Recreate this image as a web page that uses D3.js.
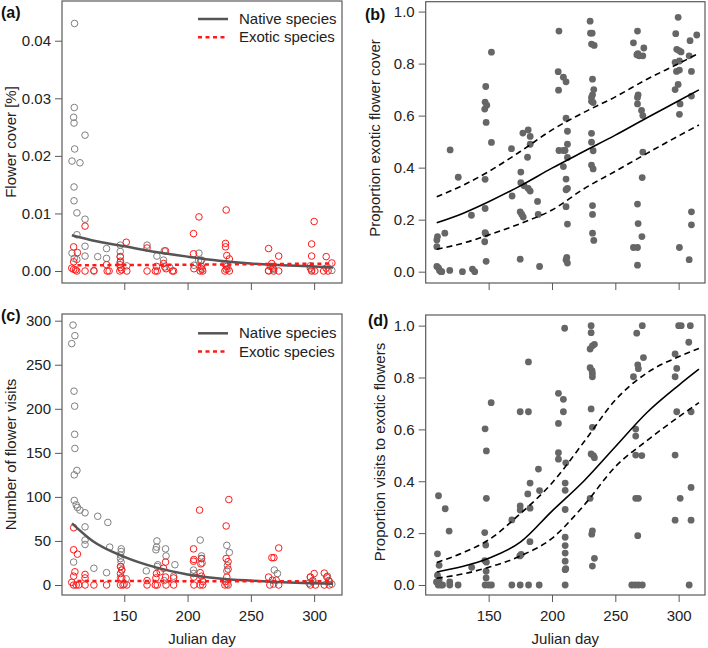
<!DOCTYPE html>
<html><head><meta charset="utf-8">
<script src="https://cdn.jsdelivr.net/npm/d3@7"></script>
<style>
body{margin:0;background:#fff}
svg{display:block}
text{font-family:"Liberation Sans",Arial,Helvetica,sans-serif}
</style>
</head><body>
<svg id="chart" width="708" height="648"></svg>
<script>
// ---------------- DATA ----------------
const xTicks = [150, 200, 250, 300];
const coverTicks = [0, 0.01, 0.02, 0.03, 0.04];
const visitTicks = [0, 50, 100, 150, 200, 250, 300];
const propTicks = [0, 0.2, 0.4, 0.6, 0.8, 1.0];
const legendLabels = ["Native species", "Exotic species"];

// (a) flower cover, native species [day, cover %]
const coverNative = [[110.7,0.0430],[110.5,0.0284],[110.0,0.0267],[110.3,0.0257],[119.0,0.0236],[110.8,0.0212],[108.7,0.0191],[115.0,0.0188],[110.3,0.0146],[110.3,0.0122],[112.6,0.0101],[119.0,0.0090],[112.6,0.0063],[119.0,0.0043],[119.0,0.0026],[108.7,0.0031],[110.5,0.0022],[112.5,0.0020],[129.0,0.0025],[126.0,0.0001],[136.0,0.0039],[136.0,0.0022],[146.8,0.0045],[146.8,0.0034],[146.8,0.0025],[146.8,0.0015],[152.0,0.0009],[168.0,0.0045],[175.8,0.0026],[181.0,0.0019],[181.6,0.0035],[186.0,0.0006],[209.0,0.0031],[208.7,0.0019],[211.0,0.0019],[205.0,0.0010],[210.5,0.0005],[231.0,0.0012],[232.0,0.0004],[264.0,0.0001],[266.6,0.0007],[268.0,0.0003],[297.0,0.0009],[298.0,0.0002],[314.0,0.0001]];
// (a) flower cover, exotic species
const coverExotic = [[119.0,0.0078],[110.0,0.0042],[113.0,0.0032],[110.0,0.0016],[108.5,0.0005],[110.0,0.0003],[111.5,0.0002],[112.5,0.0000],[119.0,0.0000],[126.0,0.0000],[136.0,0.0011],[136.5,0.0000],[138.0,0.0000],[146.8,0.0025],[147.0,0.0017],[146.5,0.0011],[147.0,0.0006],[146.5,0.0000],[148.0,0.0002],[151.6,0.0050],[152.0,0.0000],[168.0,0.0040],[168.0,0.0000],[175.5,0.0008],[176.0,0.0000],[174.5,0.0000],[181.0,0.0013],[182.0,0.0007],[183.0,0.0004],[182.6,0.0035],[188.0,0.0000],[189.0,0.0000],[204.7,0.0065],[209.0,0.0094],[204.7,0.0030],[205.0,0.0004],[210.5,0.0018],[211.0,0.0008],[211.5,0.0003],[210.0,0.0000],[212.0,0.0000],[230.5,0.0106],[230.0,0.0048],[230.0,0.0042],[231.0,0.0027],[233.0,0.0021],[229.5,0.0012],[231.0,0.0008],[230.5,0.0003],[233.0,0.0000],[229.5,0.0000],[264.0,0.0039],[272.0,0.0026],[266.5,0.0013],[265.5,0.0008],[267.5,0.0005],[264.0,0.0000],[268.0,0.0000],[272.0,0.0000],[298.0,0.0047],[300.0,0.0086],[298.0,0.0026],[297.0,0.0005],[300.5,0.0000],[298.0,0.0000],[309.5,0.0025],[314.0,0.0014],[307.5,0.0000],[311.0,0.0000],[309.5,0.0005]];
const fitCoverNative = [[108.6,0.0062],[125,0.0053],[150,0.0043],[175,0.0033],[200,0.0025],[225,0.0018],[250,0.0013],[275,0.0010],[300,0.0008],[315,0.0006]];
const fitCoverExotic = [[113,0.0010],[200,0.0011],[315,0.0013]];

// (c) number of flower visits
const visitsNative = [[109.5,295],[111,283],[108.5,274],[110.3,220],[110.8,203],[110.8,171],[111,155],[112.6,130],[110.5,125],[110.5,96],[112,91],[113,88],[115,85],[119,82],[129,78],[137,71],[138.5,43],[119,66],[119,51],[119,46],[126,19],[110,26],[136,14],[147.6,41],[147.6,38],[147,34],[147,30],[147.5,26],[147.3,21],[148,17],[147,8],[151.5,7],[167.4,16],[175.8,50],[175.5,43],[175,40],[176.5,23],[176,21],[182.6,41],[183,33],[190,23],[189,10],[181.5,5],[204.7,17],[204.7,13],[210,51],[211,33],[211,30],[211.5,25],[231,45],[233,37],[231.5,22],[231,16],[268.5,17],[271,13],[297,9],[298.5,4],[296,2],[310.5,10],[312,4],[150,1],[231,1],[268,1],[314,1]];
const visitsExotic = [[110,65],[110,40],[113,35],[111,15],[110,10],[119,12],[119,8],[108.5,3],[110,0],[112,0],[114,0],[119,0],[126,0],[136,0],[147,21],[148,17],[147,13],[148,8],[147,0],[149,0],[152,0],[168,0],[168,5],[175.5,13],[175,8],[176,0],[174.5,0],[178.4,15],[181,19],[182.6,26],[182.6,9],[183,0],[189,8],[189,0],[204.7,41],[205,29],[204.7,27],[205,9],[205,0],[209.5,85],[211,30],[210.5,24],[210,14],[211,10],[212,4],[210,0],[212,0],[232.6,97],[230.5,67],[230.5,30],[232,26.5],[232,18],[231,9],[230,4],[232,0],[229.5,0],[272,42],[266.6,31],[268.2,31],[264,9],[267,5.5],[270,5.5],[272,0],[265,0],[300,13],[297,9],[299,5],[301,0],[297,0],[308,13.5],[310,9],[311.5,5],[308,0],[312,0]];
const fitVisitsNative = [[108.7,70],[125,50],[150,32],[175,20],[200,12],[225,7.5],[250,5],[275,3.2],[300,2],[315,1.3]];
const fitVisitsExotic = [[113,4.5],[315,4.2]];

// (b) proportion exotic flower cover
const propCover = [[109.6,0.135],[109.1,0.122],[109.1,0.096],[115.4,0.148],[109.1,0.020],[110.4,0.015],[111.2,0.005],[112.3,0.000],[113,0.000],[119.3,0.005],[119.6,0.468],[129.3,0.000],[126,0.363],[136.4,0.217],[137.2,0.010],[139,0.000],
[147.2,0.355],[147.2,0.243],[147.7,0.712],[147.2,0.652],[148.5,0.640],[146.9,0.625],[148,0.574],[152.2,0.844],[152.2,0.497],[147.2,0.150],[147.7,0.145],[146.9,0.115],[148,0.040],
[168,0.473],[168.5,0.291],[175.4,0.383],[177,0.533],[181.2,0.545],[182.8,0.520],[180.7,0.440],[182.8,0.490],[175.4,0.342],[178,0.330],[181.2,0.320],[182.8,0.310],[174.9,0.230],[176.2,0.220],[177.3,0.210],[174.9,0.048],[188.6,0.270],[189.1,0.220],[190.2,0.020],
[205.5,0.925],[204.9,0.769],[209,0.748],[211.1,0.730],[205.2,0.698],[205.5,0.466],[209,0.466],[210.3,0.466],[211.1,0.590],[212.2,0.540],[212.2,0.490],[212.2,0.439],[209,0.404],[211.1,0.356],[212.2,0.320],[211.1,0.315],[211.1,0.250],[212.2,0.183],[211.7,0.055],[212.2,0.033],[211.1,0.045],
[230.1,0.963],[230.4,0.917],[231.7,0.917],[231.2,0.875],[233.3,0.870],[232,0.740],[233,0.700],[232,0.680],[231.2,0.670],[231.2,0.655],[232.5,0.650],[231.2,0.532],[231.2,0.498],[232.5,0.465],[231.2,0.410],[232.5,0.395],[232,0.254],[232,0.220],[232,0.148],[233,0.120],
[264.3,0.880],[267.5,0.925],[267.8,0.838],[268.8,0.830],[271.7,0.830],[267,0.834],[272.5,0.860],[268,0.680],[267.5,0.670],[267.5,0.645],[270.7,0.620],[271.7,0.600],[271.7,0.460],[271.2,0.362],[267.5,0.260],[268,0.185],[271,0.135],[264.3,0.093],[267.5,0.093],[267.5,0.025],
[299.6,0.978],[297.7,0.915],[298.5,0.855],[300.3,0.850],[301.9,0.845],[297.2,0.805],[300.6,0.810],[298.3,0.770],[300.6,0.775],[299.6,0.720],[297.2,0.700],[301.1,0.645],[300.6,0.605],[300.6,0.093],[314.3,0.910],[309,0.888],[308.3,0.830],[310.1,0.770],[310.1,0.675],[310.1,0.230],[310.1,0.180],[308.3,0.046]];
const fitCoverMid = [[109,0.188],[130,0.225],[150,0.269],[175,0.330],[200,0.398],[225,0.462],[250,0.525],[275,0.592],[300,0.657],[316,0.699]];
const fitCoverHi = [[109,0.288],[130,0.333],[150,0.385],[175,0.462],[200,0.545],[225,0.612],[250,0.672],[275,0.740],[300,0.800],[316,0.840]];
const fitCoverLo = [[109,0.086],[130,0.110],[150,0.141],[175,0.185],[200,0.237],[225,0.318],[250,0.386],[275,0.455],[300,0.522],[316,0.564]];

// (d) proportion visits to exotic flowers
const propVisits = [[110.4,0.344],[115.7,0.294],[118.8,0.208],[109.6,0.120],[110.9,0.076],[109.6,0.038],[110.9,0.021],[108.8,0.012],[110.2,0],[112.3,0],[113.6,0],[119.3,0.012],[119.3,0],[125.9,0],[136.6,0.068],
[147.2,0.602],[148.2,0.517],[148.2,0.334],[146.9,0.202],[147.7,0.154],[146.9,0.094],[148.2,0.088],[148,0.053],[148,0.027],[147.2,0],[150,0],[152,0.703],[152.2,0],
[168.3,0.251],[168.3,0],[174.9,0],[181.5,0],[189.9,0],[174.9,0.305],[174.9,0.289],[174.6,0.112],[175.7,0.118],[181.4,0.860],[174.9,0.668],[181.4,0.668],[180.9,0.351],[182.7,0.393],[182.7,0.296],[182.6,0.167],[189.3,0.447],[190.2,0.364],
[205.1,0.739],[209,0.716],[209,0.668],[205.1,0.623],[205.1,0.510],[205.1,0.485],[210,0.990],[210.9,0.471],[210.4,0.393],[210.4,0.365],[210.4,0.291],[210.4,0.184],[210.4,0.152],[210.4,0.123],[210.4,0.092],[210.4,0.059],[210.9,0.063],[210.4,0],
[230.9,1.0],[230.9,0.973],[230.1,0.910],[231.9,0.922],[233.5,0.928],[230.1,0.838],[231.6,0.826],[231.9,0.816],[231.9,0.803],[230.9,0.679],[231.9,0.608],[230.9,0.505],[232.7,0.499],[233.5,0.491],[230.1,0.334],[231.9,0.209],[231.4,0.196],[233.5,0.103],[231.9,0.073],
[271.3,1.0],[266.9,0.971],[272.2,0.877],[267.7,0.849],[268.2,0.834],[264.3,0.803],[266.1,0.601],[266.1,0.574],[266.1,0.501],[270.9,0.499],[266.1,0.334],[268.2,0.334],[267.7,0.190],[263,0],[265.6,0],[268.2,0],[271.3,0],
[300,1.0],[302,1.0],[309.2,1.0],[308,0.936],[297.2,0.891],[298.5,0.835],[297.2,0.803],[298.5,0.668],[309.8,0.668],[297.2,0.501],[301.2,0.334],[297.2,0.25],[309.8,0.25],[309.8,0.376],[308.3,0]];
const fitVisitsMid = [[109,0.050],[130,0.072],[150,0.103],[175,0.165],[200,0.285],[225,0.400],[250,0.533],[275,0.665],[300,0.770],[316,0.832]];
const fitVisitsHi = [[109,0.087],[130,0.125],[150,0.174],[175,0.275],[200,0.393],[225,0.550],[250,0.713],[275,0.818],[300,0.880],[316,0.912]];
const fitVisitsLo = [[109,0.026],[130,0.043],[150,0.068],[175,0.112],[200,0.180],[225,0.306],[250,0.456],[275,0.557],[300,0.648],[316,0.703]];

// ---------------- DRAWING ----------------
const svg = d3.select("#chart");
const FONT = 15;
const GREY_PT = "#808080", RED = "#ff1a1a", DOT = "#666666", FRAME = "#5a5a5a";

function makePanel(cfg) {
  const b = cfg.box;
  const x = d3.scaleLinear().domain(cfg.xDom).range([b.l, b.r]);
  const y = d3.scaleLinear().domain(cfg.yDom).range([b.b, b.t]);
  const g = svg.append("g");

  // y axis
  const ya = g.append("g").attr("transform", `translate(${b.l},0)`)
    .call(d3.axisLeft(y).tickValues(cfg.yTicks).tickSize(7).tickPadding(4).tickFormat(cfg.yFmt));
  ya.select(".domain").remove();
  ya.selectAll("line").attr("stroke", FRAME);
  ya.selectAll("text").attr("font-size", FONT).attr("fill", "#222")
    .attr("font-family", '"Liberation Sans",Arial,sans-serif');

  // x axis
  const xa = g.append("g").attr("transform", `translate(0,${b.b})`)
    .call(d3.axisBottom(x).tickValues(xTicks).tickSize(7).tickPadding(8)
      .tickFormat(cfg.xLabels ? d3.format("d") : () => ""));
  xa.select(".domain").remove();
  xa.selectAll("line").attr("stroke", FRAME);
  xa.selectAll("text").attr("font-size", FONT).attr("fill", "#222")
    .attr("font-family", '"Liberation Sans",Arial,sans-serif');

  // frame
  g.append("rect").attr("x", b.l).attr("y", b.t)
    .attr("width", b.r - b.l).attr("height", b.b - b.t)
    .attr("fill", "none").attr("stroke", FRAME).attr("stroke-width", 1.2);

  // y title
  g.append("text")
    .attr("transform", `translate(${cfg.yTitleX},${cfg.yTitleY}) rotate(-90)`)
    .attr("text-anchor", "middle").attr("font-size", FONT).attr("fill", "#222")
    .text(cfg.yTitle);

  // x title
  if (cfg.xLabels) {
    g.append("text").attr("x", (b.l + b.r) / 2).attr("y", 644)
      .attr("text-anchor", "middle").attr("font-size", FONT).attr("fill", "#222")
      .text("Julian day");
  }

  // panel letter
  g.append("text").attr("x", cfg.tag[0]).attr("y", cfg.tag[1])
    .attr("font-size", 16).attr("font-weight", "bold").attr("fill", "#111")
    .text(cfg.tagText);

  return {g, x, y};
}

const line = (x, y) => d3.line().x(d => x(d[0])).y(d => y(d[1])).curve(d3.curveMonotoneX);

function hollow(p, data, color) {
  p.g.append("g").selectAll("circle").data(data).join("circle")
    .attr("cx", d => p.x(d[0])).attr("cy", d => p.y(d[1])).attr("r", 3.3)
    .attr("fill", "none").attr("stroke", color).attr("stroke-width", 1);
}
function filled(p, data) {
  p.g.append("g").selectAll("circle").data(data).join("circle")
    .attr("cx", d => p.x(d[0])).attr("cy", d => p.y(d[1])).attr("r", 3.4)
    .attr("fill", DOT);
}
function legend(p, x0, y0) {
  const items = [
    {label: legendLabels[0], color: "#555555", dash: null},
    {label: legendLabels[1], color: RED, dash: "4,3.5"}
  ];
  items.forEach((it, i) => {
    const yy = y0 + i * 18.3;
    p.g.append("line").attr("x1", x0).attr("x2", x0 + 30).attr("y1", yy).attr("y2", yy)
      .attr("stroke", it.color).attr("stroke-width", 2.5)
      .attr("stroke-dasharray", it.dash);
    p.g.append("text").attr("x", x0 + 41).attr("y", yy + 5)
      .attr("font-size", FONT).attr("fill", "#222").text(it.label);
  });
}

// Panel (a)
const pa = makePanel({
  box: {l: 62, r: 342, t: 1, b: 283}, xDom: [100.8, 322], yDom: [-0.00208, 0.0469],
  yTicks: coverTicks, yFmt: d3.format(".2f"), xLabels: false,
  yTitle: "Flower cover [%]", yTitleX: 16, yTitleY: 142, tag: [1, 18], tagText: "(a)"
});
hollow(pa, coverNative, GREY_PT);
hollow(pa, coverExotic, RED);
pa.g.append("path").datum(fitCoverNative).attr("d", line(pa.x, pa.y))
  .attr("fill", "none").attr("stroke", "#555555").attr("stroke-width", 2.5);
pa.g.append("path").datum(fitCoverExotic).attr("d", line(pa.x, pa.y))
  .attr("fill", "none").attr("stroke", RED).attr("stroke-width", 2.5).attr("stroke-dasharray", "4,3.5");
legend(pa, 198, 19);

// Panel (c)
const pc = makePanel({
  box: {l: 62, r: 342, t: 314, b: 595}, xDom: [100.8, 322], yDom: [-11.35, 307.6],
  yTicks: visitTicks, yFmt: d3.format("d"), xLabels: true,
  yTitle: "Number of flower visits", yTitleX: 16, yTitleY: 454.5, tag: [1, 320.5], tagText: "(c)"
});
hollow(pc, visitsNative, GREY_PT);
hollow(pc, visitsExotic, RED);
pc.g.append("path").datum(fitVisitsNative).attr("d", line(pc.x, pc.y))
  .attr("fill", "none").attr("stroke", "#555555").attr("stroke-width", 2.5);
pc.g.append("path").datum(fitVisitsExotic).attr("d", line(pc.x, pc.y))
  .attr("fill", "none").attr("stroke", RED).attr("stroke-width", 2.5).attr("stroke-dasharray", "4,3.5");
legend(pc, 198, 333.3);

// Panel (b)
const pb = makePanel({
  box: {l: 425.7, r: 705, t: 1.7, b: 283}, xDom: [100.3, 320.8], yDom: [-0.0435, 1.038],
  yTicks: propTicks, yFmt: d3.format(".1f"), xLabels: false,
  yTitle: "Proportion exotic flower cover", yTitleX: 380, yTitleY: 138, tag: [365, 20], tagText: "(b)"
});
filled(pb, propCover);
[[fitCoverMid, null], [fitCoverHi, "6,4"], [fitCoverLo, "6,4"]].forEach(([d, dash]) => {
  pb.g.append("path").datum(d).attr("d", line(pb.x, pb.y))
    .attr("fill", "none").attr("stroke", "#000").attr("stroke-width", 1.6)
    .attr("stroke-dasharray", dash);
});

// Panel (d)
const pd = makePanel({
  box: {l: 425.7, r: 705, t: 315, b: 595}, xDom: [100.3, 320.8], yDom: [-0.0386, 1.041],
  yTicks: propTicks, yFmt: d3.format(".1f"), xLabels: true,
  yTitle: "Proportion visits to exotic flowers", yTitleX: 385, yTitleY: 452, tag: [368, 326], tagText: "(d)"
});
filled(pd, propVisits);
[[fitVisitsMid, null], [fitVisitsHi, "6,4"], [fitVisitsLo, "6,4"]].forEach(([d, dash]) => {
  pd.g.append("path").datum(d).attr("d", line(pd.x, pd.y))
    .attr("fill", "none").attr("stroke", "#000").attr("stroke-width", 1.6)
    .attr("stroke-dasharray", dash);
});
</script>
</body></html>
